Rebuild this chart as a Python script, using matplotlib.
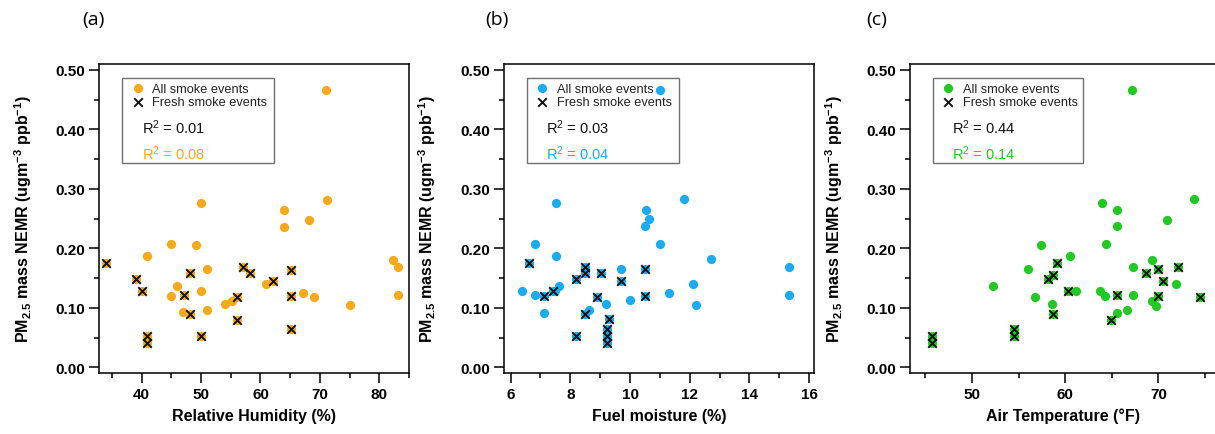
import matplotlib
matplotlib.use("Agg")
import matplotlib.pyplot as plt
from matplotlib.patches import Rectangle
from matplotlib.ticker import MultipleLocator, FormatStrFormatter

plt.rcParams['font.family'] = ['Liberation Sans', 'DejaVu Sans']
plt.rcParams['mathtext.fontset'] = 'custom'
plt.rcParams['mathtext.rm'] = 'Liberation Sans'
plt.rcParams['mathtext.bf'] = 'Liberation Sans:bold'
plt.rcParams['mathtext.default'] = 'rm'

# (a) Relative humidity
rh_all_x = [71.0, 50.0, 71.1, 64.0, 64.0, 68.1, 45.0, 49.1, 41.0, 51.0, 82.2, 83.1,
            83.1, 46.0, 45.0, 50.0, 47.0, 51.0, 54.0, 55.2, 60.9, 67.1, 69.0, 75.0]
rh_all_y = [0.466, 0.276, 0.282, 0.265, 0.236, 0.248, 0.207, 0.206, 0.187, 0.166, 0.181, 0.168,
            0.121, 0.137, 0.120, 0.128, 0.093, 0.097, 0.106, 0.111, 0.141, 0.125, 0.119, 0.105]
rh_fresh_x = [34.1, 39.0, 40.1, 41.0, 41.0, 47.1, 48.1, 48.1, 50.0, 56.1, 56.1, 57.1,
              58.2, 62.1, 65.1, 65.1, 65.1]
rh_fresh_y = [0.176, 0.149, 0.128, 0.052, 0.041, 0.121, 0.158, 0.089, 0.053, 0.119, 0.080, 0.168,
              0.159, 0.145, 0.164, 0.120, 0.065]

# (b) Fuel moisture
fm_all_x = [11.01, 7.51, 10.53, 10.62, 10.51, 11.82, 6.82, 11.01, 7.51, 9.69, 12.70, 15.31,
            15.31, 6.39, 6.82, 7.62, 7.13, 8.64, 9.20, 10.0, 11.31, 12.12, 12.21, 7.50]
fm_all_y = [0.466, 0.276, 0.264, 0.249, 0.237, 0.283, 0.208, 0.207, 0.187, 0.166, 0.182, 0.169,
            0.122, 0.129, 0.121, 0.137, 0.092, 0.097, 0.107, 0.113, 0.125, 0.141, 0.105, 0.128]
fm_fresh_x = [6.62, 7.13, 7.43, 8.19, 8.19, 8.49, 8.49, 8.49, 9.02, 8.89, 9.22, 9.22,
              9.22, 9.31, 9.69, 10.51, 10.51]
fm_fresh_y = [0.175, 0.120, 0.128, 0.148, 0.053, 0.169, 0.159, 0.090, 0.159, 0.118, 0.065, 0.053,
              0.041, 0.081, 0.145, 0.165, 0.120]

# (c) Air temperature
at_all_x = [67.17, 63.9, 65.55, 65.55, 70.94, 73.8, 57.44, 64.33, 60.49, 56.03, 69.29, 67.24,
            52.23, 56.72, 58.62, 61.21, 63.76, 64.30, 67.24, 65.55, 66.63, 69.29, 69.75, 71.91]
at_all_y = [0.466, 0.276, 0.265, 0.237, 0.248, 0.283, 0.206, 0.208, 0.187, 0.166, 0.181, 0.169,
            0.137, 0.119, 0.107, 0.128, 0.129, 0.120, 0.121, 0.092, 0.097, 0.112, 0.104, 0.141]
at_fresh_x = [45.69, 45.69, 54.49, 54.49, 58.19, 58.69, 59.12, 58.69, 60.27, 65.55, 64.9,
              68.68, 69.93, 70.47, 69.93, 72.09, 74.42]
at_fresh_y = [0.052, 0.041, 0.065, 0.053, 0.148, 0.156, 0.176, 0.089, 0.128, 0.121, 0.080,
              0.159, 0.166, 0.145, 0.120, 0.168, 0.119]

panels = [
    dict(tag='(a)', tagx=0.068, xa=rh_all_x, ya=rh_all_y, xf=rh_fresh_x, yf=rh_fresh_y,
         color='#F7A81B', r2=['0.01', '0.08'], xlabel='Relative Humidity (%)',
         xlim=(32.9, 85.0), major=10, minor=5, pos=[0.0817, 0.140, 0.2551, 0.7103]),
    dict(tag='(b)', tagx=0.399, xa=fm_all_x, ya=fm_all_y, xf=fm_fresh_x, yf=fm_fresh_y,
         color='#1AABF0', r2=['0.03', '0.04'], xlabel='Fuel moisture (%)',
         xlim=(5.78, 16.17), major=2, minor=1, pos=[0.4148, 0.140, 0.2554, 0.7103]),
    dict(tag='(c)', tagx=0.713, xa=at_all_x, ya=at_all_y, xf=at_fresh_x, yf=at_fresh_y,
         color='#22C922', r2=['0.44', '0.14'], xlabel='Air Temperature (°F)',
         xlim=(43.35, 76.2), major=10, minor=5, pos=[0.749, 0.140, 0.2520, 0.7103]),
]

fig = plt.figure(figsize=(12.15, 4.35), dpi=100)

for p in panels:
    ax = fig.add_axes(p['pos'])
    c1 = ax.scatter(p['xa'] + p['xf'], p['ya'] + p['yf'], s=44, color=p['color'],
                    linewidths=0, zorder=2)
    c2 = ax.scatter(p['xf'], p['yf'], s=38, marker='x', color='#111111',
                    linewidths=1.4, zorder=3)

    ax.set_xlim(*p['xlim'])
    ax.set_ylim(-0.0095, 0.5095)
    ax.xaxis.set_major_locator(MultipleLocator(p['major']))
    ax.xaxis.set_minor_locator(MultipleLocator(p['minor']))
    ax.yaxis.set_major_locator(MultipleLocator(0.1))
    ax.yaxis.set_minor_locator(MultipleLocator(0.05))
    ax.yaxis.set_major_formatter(FormatStrFormatter('%.2f'))
    ax.tick_params(which='major', direction='out', length=7, width=1.1,
                   labelsize=11, pad=3)
    ax.tick_params(which='minor', direction='out', length=3.5, width=1.1)
    for lab in ax.get_xticklabels() + ax.get_yticklabels():
        lab.set_fontweight('bold')
    for sp in ax.spines.values():
        sp.set_linewidth(1.1)

    ax.set_xlabel(p['xlabel'], fontsize=11.5, fontweight='bold')
    ax.xaxis.set_label_coords(0.5, -0.112)
    ax.set_ylabel(r'PM$_{\mathbf{2.5}}$ mass NEMR (ugm$^{\mathbf{-3}}$ ppb$^{\mathbf{-1}}$)',
                  fontsize=11.5, fontweight='bold')
    ax.yaxis.set_label_coords(-0.212, 0.5)

    # legend box with the R² lines inside
    ax.add_patch(Rectangle((0.074, 0.68), 0.49, 0.276, transform=ax.transAxes,
                           fill=False, edgecolor='#707070', linewidth=1.0, zorder=4))
    ax.legend([c1, c2], ['All smoke events', 'Fresh smoke events'],
              loc='upper left', bbox_to_anchor=(0.105, 0.94), frameon=False,
              fontsize=9.2, handlelength=0.9, handletextpad=0.7, labelspacing=0.12,
              borderpad=0, borderaxespad=0, scatterpoints=1, labelcolor='#222222')
    ax.text(0.137, 0.797, r'R$^2$ = ' + p['r2'][0], transform=ax.transAxes,
            fontsize=10.5, color='#111111', va='center')
    ax.text(0.137, 0.714, r'R$^2$ = ' + p['r2'][1], transform=ax.transAxes,
            fontsize=10.5, color=p['color'], va='center')

    fig.text(p['tagx'], 0.953, p['tag'], fontsize=14, ha='left', va='center',
             family=['Open Sans', 'DejaVu Sans'])

fig.savefig('out.png', dpi=100)
